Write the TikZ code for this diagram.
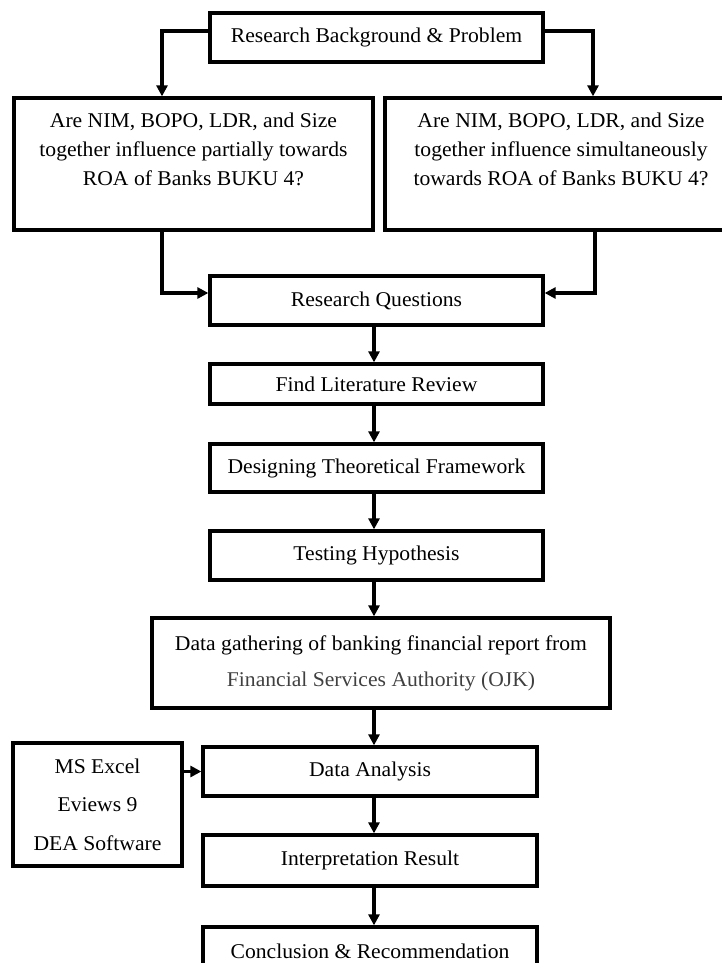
\documentclass[tikz,border=0pt]{standalone}
\usepackage{fontspec}
\setmainfont{Liberation Serif}[FakeStretch=1.03]
\usetikzlibrary{arrows.meta,calc}
\definecolor{softgray}{rgb}{0.25,0.25,0.25}
\begin{document}
\begin{tikzpicture}[x=1pt,y=-1pt,
  box/.style={draw, line width=3.3pt, inner sep=0pt, align=center, font=\fontsize{21}{29}\selectfont},
  conn/.style={line width=3.5pt, -{Triangle[length=11pt,width=11pt]}},
  lbl/.style={inner sep=0pt, align=center, font=\fontsize{21}{29}\selectfont}]
\clip (0,0) rectangle (722,963);
\fill[white] (0,0) rectangle (722,963);

\node[box, minimum width=333pt, minimum height=49pt] (top) at (376.5,37.5) {Research Background \& Problem};

\node[box, minimum width=359pt, minimum height=132pt] (lq) at (193.5,164) {};
\node[lbl] (lqt) at ([yshift=15pt]lq.center) {Are NIM, BOPO, LDR, and Size\\together influence partially towards\\ROA of Banks BUKU 4?};

\node[box, minimum width=352pt, minimum height=132pt] (rqq) at (561,164) {};
\node[lbl] (rqt) at ([yshift=15pt]rqq.center) {Are NIM, BOPO, LDR, and Size\\together influence simultaneously\\towards ROA of Banks BUKU 4?};

\node[box, minimum width=333pt, minimum height=49pt] (RQ) at (376.5,300.5) {Research Questions};
\node[box, minimum width=333pt, minimum height=40pt] (FL) at (376.5,384) {Find Literature Review};
\node[box, minimum width=333pt, minimum height=48pt] (DT) at (376.5,468) {Designing Theoretical Framework};
\node[box, minimum width=333pt, minimum height=49pt] (TH) at (376.5,555.5) {Testing Hypothesis};
\node[box, minimum width=458pt, minimum height=90pt, font=\fontsize{21}{36}\selectfont] (DG) at (381,663) {Data gathering of banking financial report from\\{\color{softgray}Financial Services Authority (OJK)}};
\node[box, minimum width=334pt, minimum height=49pt] (DA) at (370,771.5) {Data Analysis};
\node[box, minimum width=169pt, minimum height=123pt, font=\fontsize{21}{38.5}\selectfont] (tools) at (97.5,804.5) {MS Excel\\Eviews 9\\DEA Software};
\node[box, minimum width=334pt, minimum height=51pt] (IR) at (370,860.5) {Interpretation Result};
\node[box, minimum width=334pt, minimum height=48pt] (CR) at (370,951) {Conclusion \& Recommendation};

\coordinate (ax) at (374,0);

\draw[conn] ([yshift=6.5pt]top.west) -| ([xshift=-31.5pt]lq.north);
\draw[conn] ([yshift=6.5pt]top.east) -| ([xshift=32pt]rqq.north);
\draw[conn] ([xshift=-31.5pt]lq.south) |- ([yshift=7.5pt]RQ.west);
\draw[conn] ([xshift=34pt]rqq.south) |- ([yshift=7.5pt]RQ.east);

\draw[conn] (RQ.south -| ax) -- (FL.north -| ax);
\draw[conn] (FL.south -| ax) -- (DT.north -| ax);
\draw[conn] (DT.south -| ax) -- (TH.north -| ax);
\draw[conn] (TH.south -| ax) -- (DG.north -| ax);
\draw[conn] (DG.south -| ax) -- (DA.north -| ax);
\draw[conn] (DA.south -| ax) -- (IR.north -| ax);
\draw[conn] (IR.south -| ax) -- (CR.north -| ax);
\draw[conn] (tools.east |- DA.west) -- (DA.west);
\end{tikzpicture}
\end{document}
